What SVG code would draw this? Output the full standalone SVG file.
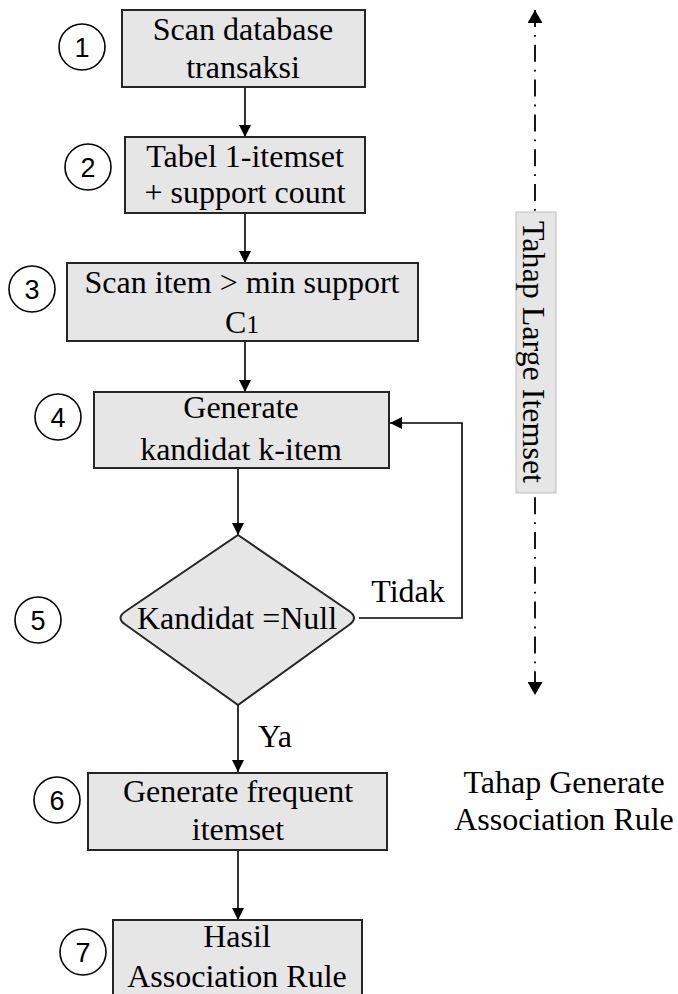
<svg xmlns="http://www.w3.org/2000/svg" width="678" height="994" viewBox="0 0 678 994">
<style>
.box{fill:#e6e6e6;stroke:#262626;stroke-width:2}
.t{font-family:"Liberation Serif","Times New Roman",serif;font-size:32px;fill:#000;text-anchor:middle}
.num{font-family:"Liberation Sans",Arial,sans-serif;font-size:27px;fill:#000;text-anchor:middle}
.circ{fill:#fff;stroke:#000;stroke-width:1.6}
.con{fill:none;stroke:#000;stroke-width:1.6}
.dd{fill:none;stroke:#000;stroke-width:1.8;stroke-dasharray:17 8 1.8 8}
</style>
<defs>
<marker id="ah" viewBox="0 0 10 10" refX="10" refY="5" markerUnits="userSpaceOnUse" markerWidth="12" markerHeight="12" orient="auto">
<path d="M0,0 L10,5 L0,10 z" fill="#000"/>
</marker>
<marker id="ahs" viewBox="0 0 10 10" refX="10" refY="5" markerUnits="userSpaceOnUse" markerWidth="13" markerHeight="15" orient="auto-start-reverse" preserveAspectRatio="none">
<path d="M0,0 L10,5 L0,10 z" fill="#000"/>
</marker>
</defs>
<g id="connectors">
<line class="con" x1="245" y1="87" x2="245" y2="137" marker-end="url(#ah)"/>
<line class="con" x1="245" y1="213" x2="245" y2="263" marker-end="url(#ah)"/>
<line class="con" x1="245" y1="341" x2="245" y2="392" marker-end="url(#ah)"/>
<line class="con" x1="238" y1="468" x2="238" y2="535" marker-end="url(#ah)"/>
<line class="con" x1="238" y1="705" x2="238" y2="772" marker-end="url(#ah)"/>
<line class="con" x1="238" y1="850" x2="238" y2="920" marker-end="url(#ah)"/>
<polyline class="con" points="359,618 462,618 462,423 390,423" marker-end="url(#ah)"/>
<line class="dd" x1="535" y1="10" x2="535" y2="695" marker-start="url(#ahs)" marker-end="url(#ahs)"/>
<text class="t" x="408" y="602">Tidak</text>
<text class="t" x="275" y="747">Ya</text>
</g>
<g id="n1">
<rect class="box" x="122" y="10" width="243" height="77"/>
<text class="t" x="243" y="40">Scan database</text>
<text class="t" x="243" y="78">transaksi</text>
<circle class="circ" cx="82" cy="47" r="23"/>
<text class="num" x="82" y="57">1</text>
</g>
<g id="n2">
<rect class="box" x="125" y="137" width="240" height="76"/>
<text class="t" x="245" y="167">Tabel 1-itemset</text>
<text class="t" x="245" y="203">+ support count</text>
<circle class="circ" cx="88" cy="167" r="23"/>
<text class="num" x="88" y="177">2</text>
</g>
<g id="n3">
<rect class="box" x="67" y="263" width="351" height="78"/>
<text class="t" x="242" y="293">Scan item &gt; min support</text>
<text class="t" x="242" y="333">C<tspan font-size="25">1</tspan></text>
<circle class="circ" cx="32" cy="289" r="23"/>
<text class="num" x="32" y="299">3</text>
</g>
<g id="n4">
<rect class="box" x="94" y="392" width="295" height="76"/>
<text class="t" x="241" y="418">Generate</text>
<text class="t" x="241" y="460">kandidat k-item</text>
<circle class="circ" cx="58" cy="417" r="23"/>
<text class="num" x="58" y="427">4</text>
</g>
<g id="n5">
<path class="box" d="M238,535 L349,611 Q359,618 349,625 L238,705 L126,625 Q115,618 126,611 Z" stroke-width="1.4"/>
<text class="t" x="237" y="629">Kandidat =Null</text>
<circle class="circ" cx="38" cy="620" r="23"/>
<text class="num" x="38" y="630">5</text>
</g>
<g id="n6">
<rect class="box" x="88" y="773" width="299" height="77"/>
<text class="t" x="238" y="802">Generate frequent</text>
<text class="t" x="238" y="840">itemset</text>
<circle class="circ" cx="57" cy="800" r="23"/>
<text class="num" x="57" y="810">6</text>
</g>
<g id="n7">
<rect class="box" x="113" y="920" width="249" height="90"/>
<text class="t" x="237" y="947">Hasil</text>
<text class="t" x="237" y="987">Association Rule</text>
<circle class="circ" cx="83" cy="952" r="23"/>
<text class="num" x="83" y="962">7</text>
</g>
<g id="label-large">
<rect x="516" y="212" width="40" height="281" fill="#e6e6e6" stroke="#bdbdbd" stroke-width="1"/>
<text class="t" transform="translate(523,352) rotate(90)">Tahap Large Itemset</text>
</g>
<g id="label-generate">
<text class="t" x="564" y="793">Tahap Generate</text>
<text class="t" x="564" y="830">Association Rule</text>
</g>
</svg>
